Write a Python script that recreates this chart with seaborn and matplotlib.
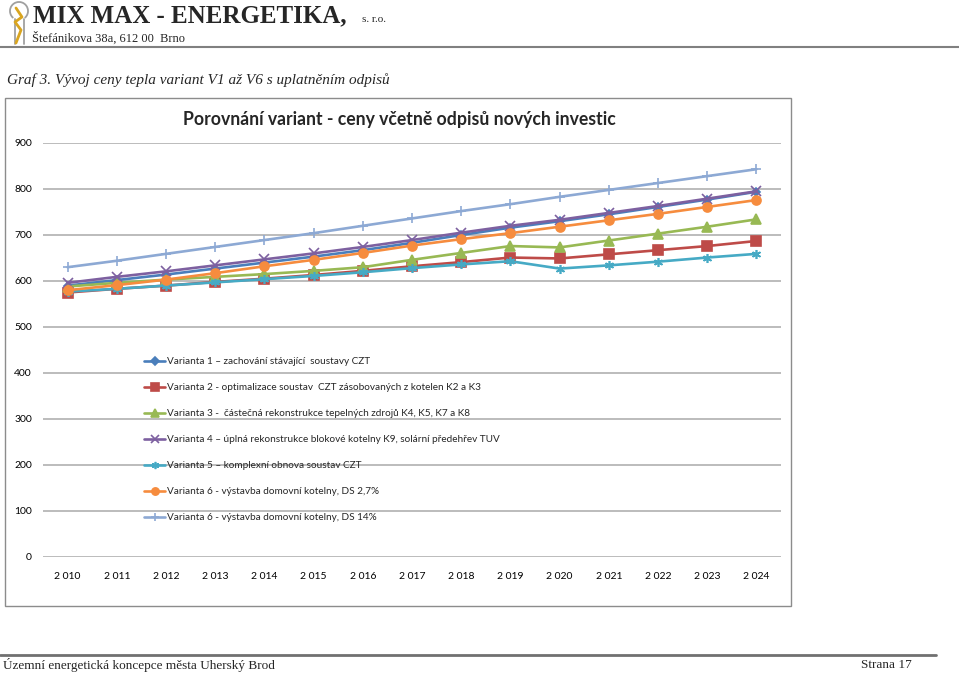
import numpy as np
import pandas as pd
import matplotlib.pyplot as plt
import seaborn as sns
from matplotlib.lines import Line2D
from matplotlib.patches import Rectangle, Arc

# Data (Kc/GJ per year)
years = ['2 010', '2 011', '2 012', '2 013', '2 014', '2 015', '2 016', '2 017',
         '2 018', '2 019', '2 020', '2 021', '2 022', '2 023', '2 024']
v1 = [590, 602, 614, 627, 640, 653, 667, 683, 700, 716, 730, 745, 761, 777, 794]
v2 = [575, 583, 590, 598, 605, 613, 622, 632, 641, 651, 649, 658, 667, 676, 687]
v3 = [588, 596, 603, 609, 615, 622, 630, 646, 661, 676, 673, 688, 703, 718, 734]
v4 = [596, 609, 621, 634, 647, 660, 674, 689, 705, 720, 733, 748, 763, 779, 795]
v5 = [577, 583, 590, 597, 604, 611, 619, 628, 636, 643, 627, 634, 642, 651, 659]
v6 = [580, 591, 603, 617, 632, 646, 661, 677, 691, 704, 718, 732, 746, 761, 776]
v7 = [630, 644, 659, 674, 689, 704, 720, 736, 752, 767, 783, 798, 813, 828, 843]

labels = [
    'Varianta 1 \u2013 zachování stávající  soustavy CZT',
    'Varianta 2 - optimalizace soustav  CZT zásobovaných z kotelen K2 a K3',
    'Varianta 3 -  částečná rekonstrukce tepelných zdrojů K4, K5, K7 a K8',
    'Varianta 4 \u2013 úplná rekonstrukce blokové kotelny K9, solární předehřev TUV',
    'Varianta 5 \u2013 komplexní obnova soustav CZT',
    'Varianta 6 - výstavba domovní kotelny, DS 2,7%',
    'Varianta 6 - výstavba domovní kotelny, DS 14%',
]
series = [v1, v2, v3, v4, v5, v6, v7]
colors = ['#4A7EBB', '#BE4B48', '#98B954', '#7D60A0', '#46AAC5', '#F68C3E', '#8DA9D4']
markers = ['D', 's', '^', 'x', (6, 2, 0), 'o', '+']
msizes = [4.5, 6.5, 6.5, 6.5, 6.5, 6.5, 6.5]

sns.set_theme(style='white')
plt.rcParams['font.family'] = ['Lato', 'DejaVu Sans']

W, H = 959, 674
fig = plt.figure(figsize=(W / 100, H / 100), dpi=100)


def fx(x):
    return x / W


def fy(y):
    return 1 - y / H


# ---- page header ----
fig.text(fx(33), fy(16), 'MIX MAX - ENERGETIKA,', family='Liberation Serif',
         weight='bold', fontsize=18, va='center', ha='left')
fig.text(fx(362), fy(20), 's. r.o.', family='Liberation Serif', fontsize=8,
         va='center', ha='left')
fig.text(fx(32), fy(38), 'Štefánikova 38a, 612 00  Brno', family='Liberation Serif',
         fontsize=9, va='center', ha='left')
fig.add_artist(Line2D([0, 1], [fy(47), fy(47)], color='#808080', lw=1.5))

# simple logo: bulb/key outline + golden bolt
fig.add_artist(Arc((fx(19), fy(11)), fx(18), 18 / H, theta1=-60, theta2=240,
                   color='#a0a0a0', lw=1.3))
fig.add_artist(Line2D([fx(14.5), fx(14.5)], [fy(19), fy(44)], color='#a0a0a0', lw=1.3))
fig.add_artist(Line2D([fx(23.5), fx(23.5)], [fy(19), fy(44)], color='#a0a0a0', lw=1.3))
fig.add_artist(Line2D([fx(16), fx(22), fx(15), fx(21), fx(16)],
                      [fy(8), fy(17), fy(22), fy(30), fy(43)],
                      color='#D9A520', lw=2.0))

fig.text(fx(7), fy(80), 'Graf 3. Vývoj ceny tepla variant V1 až V6 s uplatněním odpisů',
         family='Liberation Serif', style='italic', fontsize=11, va='center', ha='left')

# chart frame
fig.add_artist(Rectangle((fx(5), fy(606)), fx(786), 508 / H, fill=False,
                         edgecolor='#8c8c8c', lw=1.0))

# ---- chart ----
ax = fig.add_axes([fx(43), fy(557), fx(781 - 43), (557 - 143) / H])
x = np.arange(len(years))
for vals, lab, c, m, ms in zip(series, labels, colors, markers, msizes):
    sns.lineplot(x=x, y=vals, ax=ax, color=c, marker=m, markersize=ms,
                 markeredgecolor=c, markeredgewidth=1.2, linewidth=1.9,
                 label=lab)

ax.set_xlim(-0.5, len(years) - 0.5)
ax.set_ylim(0, 900)
ax.set_yticks(range(0, 1000, 100))
ax.set_xticks(x)
ax.set_xticklabels(years)
ax.yaxis.grid(True, color='#a9a9a9', lw=1.1)
ax.xaxis.grid(False)
ax.set_axisbelow(True)
for s in ax.spines.values():
    s.set_visible(False)
ax.tick_params(axis='both', length=0, labelsize=7.5, colors='black')
ax.tick_params(axis='y', pad=8)
ax.tick_params(axis='x', pad=10.5)
ax.set_xlabel('')
ax.set_ylabel('')

fig.text(fx(399), fy(119), 'Porovnání variant - ceny včetně odpisů nových investic',
         weight='bold', fontsize=12.7, ha='center', va='center')

handles, labs = ax.get_legend_handles_labels()
ax.legend(handles, labs, loc='upper left', bbox_to_anchor=(fx(140), fy(353)),
          bbox_transform=fig.transFigure, frameon=False, fontsize=7.2,
          labelspacing=1.7, handlelength=2.1, handletextpad=0.2,
          markerscale=0.8, borderaxespad=0)

# ---- page footer ----
fig.add_artist(Line2D([0, fx(936)], [fy(655), fy(655)], color='#707070', lw=2))
fig.text(fx(3), fy(665), 'Územní energetická koncepce města Uherský Brod',
         family='Liberation Serif', fontsize=9.5, ha='left', va='center')
fig.text(fx(912), fy(665), 'Strana 17', family='Liberation Serif', fontsize=9.5,
         ha='right', va='center')

fig.savefig('out.png', dpi=100)
